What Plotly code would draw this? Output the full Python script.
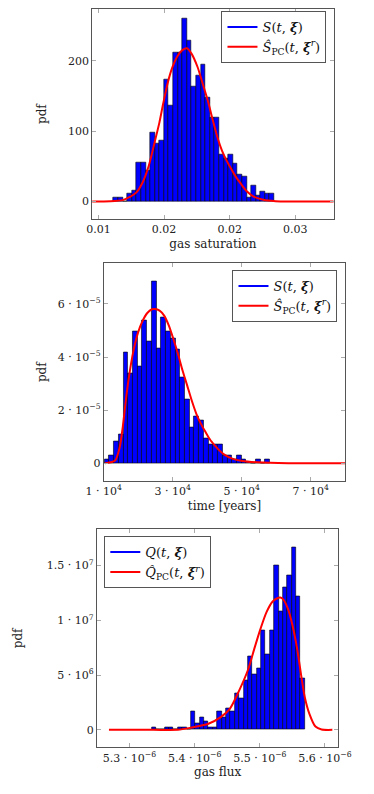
import numpy as np
import plotly.graph_objects as go

W, H = 374, 794
OFF = 8  # default page margin of the browser body

# ---- panel 1: gas saturation ----
sat_bin_start = 0.011142
sat_bin_width = 0.00035
sat_pdf = [5.7, 5.7, 0, 11.9, 15.0, 54.8, 54.8, 43.8, 97.6, 81.9, 86.7, 173.8,
           136.7, 211.9, 211.9, 260.5, 228.0, 162.9, 178.6, 195.2, 147.0, 120.0,
           120.0, 66.2, 61.4, 66.2, 53.3, 39.0, 35.7, 5.7, 22.4, 8.1, 14.3, 11.4, 11.4]
sat_pc_x = [0.00951, 0.01091, 0.01184, 0.01231, 0.01289, 0.01336, 0.01382, 0.01429,
            0.01464, 0.01492, 0.01527, 0.01562, 0.01604, 0.01639, 0.01674, 0.01709,
            0.01755, 0.01790, 0.01832, 0.01872, 0.01907, 0.01942, 0.01977, 0.02012,
            0.02047, 0.02082, 0.02128, 0.02186, 0.02256, 0.02350, 0.02793]
sat_pc_y = [0, 0.3, 1.9, 5.7, 12.9, 27, 50, 85, 112, 138, 168, 190, 207, 215, 217.6,
            210, 191, 170, 144, 115, 91, 72, 58, 46, 35, 26, 15, 6.7, 2.4, 0.5, 0]
sat_ticks = [0.010, 0.015, 0.020, 0.025]
sat_ticktext = ["0.01", "0.02", "0.02", "0.03"]

# ---- panel 2: time ----
time_bin_start = 10178
time_bin_width = 1371
time_pdf_e5 = [0.14, 0.29, 0.82, 1.09, 4.18, 3.39, 4.98, 3.64, 5.37, 4.60, 6.85, 4.31,
               5.50, 4.98, 4.71, 4.29, 3.24, 2.42, 1.36, 1.77, 1.61, 0.94, 0.72, 0.69,
               0.69, 0.29, 0.29, 0.13, 0.28, 0.13, 0.04, 0, 0.14, 0, 0.14]
time_pc_x = [10300, 10622, 13289, 14622, 15511, 16400, 17289, 18622, 19956, 21289,
             22622, 23956, 24845, 26178, 27511, 28845, 30178, 31511, 32845, 34178,
             35511, 36845, 38178, 39511, 40845, 42178, 43511, 44845, 47067, 50178,
             54622, 63511, 80000]
time_pc_y_e5 = [0, 0, 0.10, 0.60, 1.36, 2.36, 3.24, 4.24, 4.93, 5.37, 5.66, 5.80, 5.81,
                5.75, 5.56, 5.19, 4.68, 4.12, 3.49, 2.93, 2.36, 1.86, 1.48, 1.17, 0.88,
                0.67, 0.48, 0.33, 0.18, 0.08, 0.03, 0, 0]
time_ticks = [1e4, 3e4, 5e4, 7e4]
time_ticktext = ["1 · 10<sup>4</sup>", "3 · 10<sup>4</sup>", "5 · 10<sup>4</sup>", "7 · 10<sup>4</sup>"]
time_yticks = [0, 2e-5, 4e-5, 6e-5]
time_yticktext = ["0", "2 · 10<sup>−5</sup>", "4 · 10<sup>−5</sup>", "6 · 10<sup>−5</sup>"]

# ---- panel 3: gas flux ----
flux_bin_start = 5.3338e-6
flux_bin_width = 6.72e-9
flux_pdf_e6 = [0.27, 0, 0, 0.27, 0.27, 0, 0.27, 0.27, 0, 1.67, 0.55, 1.12, 0.82, 0.27,
               0.27, 1.67, 1.12, 1.94, 1.67, 3.34, 2.92, 4.56, 6.69, 5.02, 5.57, 9.12,
               6.93, 9.12, 14.99, 10.82, 13.01, 14.14, 16.64, 12.16, 4.74]
flux_pc_x_e6 = [5.2685, 5.3366, 5.3742, 5.3930, 5.4211, 5.4399, 5.4540, 5.4681, 5.4822,
                5.4915, 5.5009, 5.5103, 5.5197, 5.5268, 5.5315, 5.5362, 5.5432, 5.5502,
                5.5573, 5.5643, 5.5690, 5.5761, 5.5854, 5.5948, 5.6113]
flux_pc_y_e6 = [0, 0, 0, 0.18, 0.55, 1.16, 1.92, 3.56, 5.53, 7.39, 9.19, 10.74, 11.71,
                12.01, 12.07, 11.89, 11.04, 9.52, 7.39, 4.65, 2.98, 1.46, 0.30, 0.03, 0]
flux_ticks = [5.3e-6, 5.4e-6, 5.5e-6, 5.6e-6]
flux_ticktext = ["5.3 · 10<sup>−6</sup>", "5.4 · 10<sup>−6</sup>", "5.5 · 10<sup>−6</sup>", "5.6 · 10<sup>−6</sup>"]
flux_yticks = [0, 5e6, 1e7, 1.5e7]
flux_yticktext = ["0", "5 · 10<sup>6</sup>", "1 · 10<sup>7</sup>", "1.5 · 10<sup>7</sup>"]

S_LABEL = "<i>S</i>(<i>t</i>, <b><i>ξ</i></b>)"
SPC_LABEL = "<i>Ŝ</i><sub>PC</sub>(<i>t</i>, <b><i>ξ</i></b><sup><i>r</i></sup>)"
Q_LABEL = "<i>Q</i>(<i>t</i>, <b><i>ξ</i></b>)"
QPC_LABEL = "<i>Q̂</i><sub>PC</sub>(<i>t</i>, <b><i>ξ</i></b><sup><i>r</i></sup>)"

FONT = "DejaVu Serif"


def centers(start, width, n):
    return start + width * (np.arange(n) + 0.5)


def add_panel(fig, k, start, width, pdf, cx, cy, lab_hist, lab_pc, legend):
    xa, ya = ("x", "y") if k == 1 else (f"x{k}", f"y{k}")
    fig.add_trace(go.Bar(x=centers(start, width, len(pdf)), y=pdf, width=width,
                         marker=dict(color="#0000ff", line=dict(color="black", width=0.6)),
                         xaxis=xa, yaxis=ya, showlegend=False))
    fig.add_trace(go.Scatter(x=cx, y=cy, mode="lines", xaxis=xa, yaxis=ya,
                             line=dict(color="#ff0000", width=2, shape="spline", smoothing=0.7),
                             name=lab_pc, legend=legend))
    # legend entry for the histogram drawn as a line, like pgfplots
    fig.add_trace(go.Scatter(x=[None], y=[None], mode="lines", xaxis=xa, yaxis=ya,
                             line=dict(color="#0000ff", width=2), name=lab_hist,
                             legend=legend, legendrank=1))


fig = go.Figure()
add_panel(fig, 1, sat_bin_start, sat_bin_width, sat_pdf, sat_pc_x, sat_pc_y,
          S_LABEL, SPC_LABEL, "legend")
add_panel(fig, 2, time_bin_start, time_bin_width, np.array(time_pdf_e5) * 1e-5,
          time_pc_x, np.array(time_pc_y_e5) * 1e-5, S_LABEL, SPC_LABEL, "legend2")
add_panel(fig, 3, flux_bin_start, flux_bin_width, np.array(flux_pdf_e6) * 1e6,
          np.array(flux_pc_x_e6) * 1e-6, np.array(flux_pc_y_e6) * 1e6,
          Q_LABEL, QPC_LABEL, "legend3")

FW, FH = W - OFF, H - OFF


def px_x(a):
    return (a - OFF) / FW


def px_y(a):
    return 1 - (a - OFF) / FH


def xdom(a, b):
    return [max(0, px_x(a)), px_x(b)]


def ydom(top, bottom):
    return [px_y(bottom), min(1, px_y(top))]


axis_style = dict(showline=True, linecolor="#555", linewidth=1, mirror="ticks",
                  ticks="inside", ticklen=4, tickcolor="#aaa", showgrid=False,
                  zeroline=False, tickfont=dict(family=FONT, size=11, color="#222"),
                  title_font=dict(family=FONT, size=12, color="#222"))

legend_style = dict(bgcolor="white", bordercolor="#555", borderwidth=1,
                    font=dict(family=FONT, size=13, color="#111"),
                    itemwidth=30, tracegroupgap=0, traceorder="normal")

fig.update_layout(
    width=FW, height=FH, margin=dict(l=0, r=0, t=0, b=0),
    plot_bgcolor="white", paper_bgcolor="white", bargap=0,
    font=dict(family=FONT),
    xaxis=dict(domain=xdom(80, 343.3), range=[0.00951, 0.02794], anchor="y",
               tickvals=sat_ticks, ticktext=sat_ticktext,
               title=dict(text="gas saturation", standoff=4), **axis_style),
    yaxis=dict(domain=ydom(8.5, 218), range=[-24.5, 284 - 8 / 0.707], anchor="x",
               tickvals=[0, 100, 200], ticktext=["0", "100", "200"],
               title=dict(text="pdf", standoff=18), **axis_style),
    xaxis2=dict(domain=xdom(92.7, 355.7), range=[1e4, 8e4], anchor="y2",
                tickvals=time_ticks, ticktext=time_ticktext,
                title=dict(text="time [years]", standoff=4), **axis_style),
    yaxis2=dict(domain=ydom(262.7, 480.5), range=[-0.67e-5, 7.53e-5], anchor="x2",
                tickvals=time_yticks, ticktext=time_yticktext,
                title=dict(text="pdf", standoff=8), **axis_style),
    xaxis3=dict(domain=xdom(85.3, 348.3), range=[5.2501e-6, 5.6206e-6], anchor="y3",
                tickvals=flux_ticks, ticktext=flux_ticktext,
                title=dict(text="gas flux", standoff=4), **axis_style),
    yaxis3=dict(domain=ydom(529, 747.3), range=[-1.6e6, 1.83e7], anchor="x3",
                tickvals=flux_yticks, ticktext=flux_yticktext,
                title=dict(text="pdf", standoff=21), **axis_style),
    legend=dict(x=px_x(335.3), y=px_y(10), xanchor="right", yanchor="top", **legend_style),
    legend2=dict(x=px_x(347.3), y=px_y(269.3), xanchor="right", yanchor="top", **legend_style),
    legend3=dict(x=px_x(93.3), y=px_y(535.7), xanchor="left", yanchor="top", **legend_style),
)

fig.write_html("out.html")
